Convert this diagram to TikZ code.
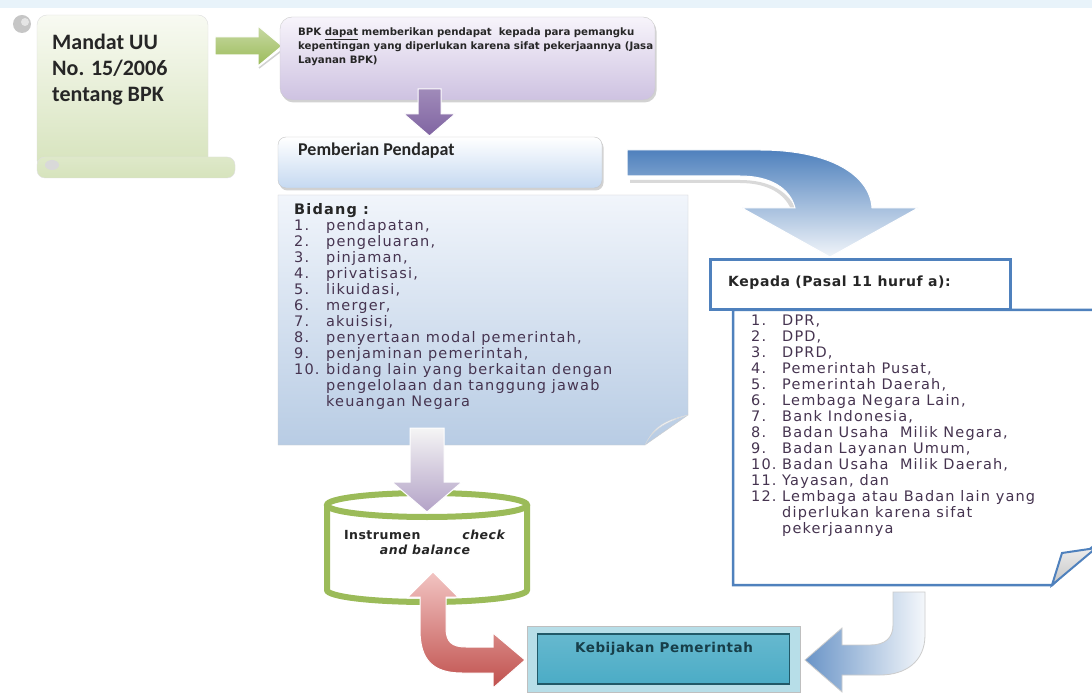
\documentclass[tikz,border=0pt]{standalone}
\usepackage{fontspec}
\setmainfont{Liberation Sans}
\newfontfamily\carl{Carlito}
\newfontfamily\dvs[LetterSpace=4]{DejaVu Sans}
\newfontfamily\dvsplain{DejaVu Sans}
\newfontfamily\lstfont[LetterSpace=8]{DejaVu Sans}
\usetikzlibrary{shadows}
\definecolor{bandblue}{RGB}{232,243,250}
\definecolor{scrolltop}{RGB}{248,250,242}
\definecolor{scrollgreen}{RGB}{214,227,188}
\definecolor{greenarrow}{RGB}{155,187,89}
\definecolor{purpletop}{RGB}{247,244,251}
\definecolor{purplebot}{RGB}{206,194,225}
\definecolor{purplearrow}{RGB}{128,100,162}
\definecolor{boxblue}{RGB}{197,217,241}
\definecolor{notetop}{RGB}{241,245,251}
\definecolor{notebot}{RGB}{184,204,228}
\definecolor{kblue}{RGB}{79,129,189}
\definecolor{cylgreen}{RGB}{155,187,89}
\definecolor{redarrow}{RGB}{192,80,77}
\definecolor{redlight}{RGB}{242,196,194}
\definecolor{teal}{RGB}{75,172,198}
\definecolor{tealdark}{RGB}{33,89,104}
\definecolor{tealframe}{RGB}{183,222,232}
\definecolor{txtdark}{RGB}{38,38,38}
\definecolor{listcol}{RGB}{70,52,80}
\definecolor{graylav}{RGB}{179,162,199}
\begin{document}
\begin{tikzpicture}[x=1pt,y=-1pt,
  every node/.style={inner sep=0pt},
  softshadow/.style={drop shadow={shadow xshift=1.5pt,shadow yshift=-2.5pt,opacity=.35,fill=gray}},
  blockarrow/.style={draw=white,line width=1pt},
  listtext/.style={anchor=base west,font=\lstfont\fontsize{14.5}{16}\selectfont,text=listcol}
]
\useasboundingbox (0,0) rectangle (1092,700);
\clip (0,0) rectangle (1092,700);
\fill[white] (0,0) rectangle (1092,700);
\fill[bandblue] (0,0) rectangle (1092,8);

% ---------- scroll: Mandat UU ----------
\shade[top color=scrolltop,bottom color=scrollgreen,draw=gray!25,rounded corners=10] (37,15) rectangle (208,170);
\shade[top color=scrollgreen!80!white,bottom color=scrollgreen,draw=gray!25,rounded corners=8] (37,157) rectangle (235,178);
\fill[gray!45] (22,24) circle (9);
\fill[gray!20] (25,22) circle (4);
\fill[gray!30] (52,165) ellipse (7 and 5);
\node[anchor=north west,align=left,font=\carl\bfseries\fontsize{22}{26}\selectfont,text=txtdark] (mandat) at (52,34) {Mandat UU\\No. 15/2006\\tentang BPK};

% ---------- green arrow ----------
\draw[gray!35,line width=1.5pt] (259,68) -- (285,48);
\shade[top color=greenarrow!55!white,bottom color=greenarrow,blockarrow] (215,37) -- (258,37) -- (258,26) -- (282,46) -- (258,66) -- (258,55) -- (215,55) -- cycle;

% ---------- top box ----------
\node[draw=gray!40,rounded corners=12,top color=purpletop,bottom color=purplebot,minimum width=375pt,minimum height=83pt,softshadow] (bpk) at (467.5,58.5) {};
\node[anchor=north west,align=left,font=\dvsplain\bfseries\fontsize{10.2}{14}\selectfont,text=txtdark] (bpktext) at (298,28) {BPK \underline{dapat} memberikan pendapat~ kepada para pemangku\\kepentingan yang diperlukan karena sifat pekerjaannya (Jasa\\Layanan BPK)};

% ---------- purple arrow ----------
\shade[top color=purplearrow!75,bottom color=purplearrow,blockarrow] (418,89) -- (441,89) -- (441,114) -- (455,114) -- (429.5,136) -- (404,114) -- (418,114) -- cycle;

% ---------- Pemberian Pendapat ----------
\node[draw=gray!45,rounded corners=8,top color=white,bottom color=boxblue,minimum width=324pt,minimum height=51pt,softshadow] (pemb) at (440,162.5) {};
\node[anchor=west,font=\carl\bfseries\fontsize{18}{20}\selectfont,text=txtdark] (pembtext) at (298,151) {Pemberian Pendapat};

% ---------- Bidang note ----------
\shade[top color=notetop,bottom color=notebot,draw=gray!40] (278,195) -- (688,195) -- (688,415) -- (645,445) -- (278,445) -- cycle;
\shade[top color=white,bottom color=notebot!70,draw=gray!30] (645,445) .. controls (652,430) and (665,422) .. (688,415) .. controls (668,420) and (655,424) .. (645,445) -- cycle;
\node[listtext] (bidang) at (294,215) {\begin{tabular}[t]{@{}p{32pt}@{}l@{}}
\multicolumn{2}{@{}l@{}}{\textcolor{txtdark}{\bfseries Bidang :}}\\
1. & pendapatan,\\
2. & pengeluaran,\\
3. & pinjaman,\\
4. & privatisasi,\\
5. & likuidasi,\\
6. & merger,\\
7. & akuisisi,\\
8. & penyertaan modal pemerintah,\\
9. & penjaminan pemerintah,\\
10. & bidang lain yang berkaitan dengan\\
 & pengelolaan dan tanggung jawab\\
 & keuangan Negara
\end{tabular}};

% ---------- big blue arrow ----------
\fill[gray!30] (630,180) -- (740,180) .. controls (770,180) and (790,192) .. (797,212) -- (792,212) .. controls (786,194) and (768,183) .. (740,183) -- (630,183) -- cycle;
\shade[top color=kblue,bottom color=kblue!8,blockarrow] (627,150) -- (760,150) .. controls (830,150) and (870,175) .. (872,208) -- (918,208) -- (830,257) -- (742,208) -- (795,208) .. controls (790,188) and (770,176) .. (740,176) -- (627,176) -- cycle;

% ---------- Kepada list box ----------
\draw[kblue,line width=2.5pt,fill=white] (1100,310) -- (733,310) -- (733,585) -- (1052,585) -- (1100,540);
\shade[top color=gray!15,bottom color=gray!45,draw=kblue,line width=2pt] (1052,585) -- (1062,553) -- (1096,548) -- cycle;
\node[draw=kblue,line width=3pt,fill=white,minimum width=300pt,minimum height=50pt] (kepada) at (860,285) {};
\node[anchor=west,font=\dvs\bfseries\fontsize{14}{16}\selectfont,text=txtdark] (kepadatext) at (728,283) {Kepada (Pasal 11 huruf a):};
\node[listtext] (kepadalist) at (751,326) {\begin{tabular}[t]{@{}p{31pt}@{}l@{}}
1. & DPR,\\
2. & DPD,\\
3. & DPRD,\\
4. & Pemerintah Pusat,\\
5. & Pemerintah Daerah,\\
6. & Lembaga Negara Lain,\\
7. & Bank Indonesia,\\
8. & Badan Usaha~ Milik Negara,\\
9. & Badan Layanan Umum,\\
10. & Badan Usaha~ Milik Daerah,\\
11. & Yayasan, dan\\
12. & Lembaga atau Badan lain yang\\
 & diperlukan karena sifat\\
 & pekerjaannya
\end{tabular}};

% ---------- cylinder ----------
\draw[cylgreen,line width=6pt,fill=white] (327,505) -- (327,590) arc[start angle=180,end angle=360,x radius=100,y radius=-12] -- (527,505);
\draw[cylgreen,line width=6pt] (427,505) ellipse (100 and 12);
\node[anchor=base,font=\dvs\bfseries\fontsize{12.5}{14}\selectfont,text=txtdark] (instr) at (425,539) {\makebox[162pt]{Instrumen\hfill\textit{check}}};
\node[anchor=base,font=\dvs\bfseries\itshape\fontsize{12.5}{14}\selectfont,text=txtdark] (cb) at (425,554) {and balance};

% ---------- gray arrow into cylinder ----------
\shade[top color=white!92!gray,bottom color=graylav,blockarrow] (410,428) -- (444,428) -- (444,482) -- (462,482) -- (427,512) -- (392,482) -- (410,482) -- cycle;

% ---------- red double arrow ----------
\shade[top color=redlight,bottom color=redarrow,blockarrow] (433,572) -- (458,597) -- (446,597) -- (446,628) .. controls (446,642) and (452,647) .. (466,647) -- (493,647) -- (493,633) -- (525,660) -- (493,688) -- (493,673) -- (462,673) .. controls (433,673) and (420,660) .. (420,630) -- (420,597) -- (408,597) -- cycle;

% ---------- Kebijakan Pemerintah ----------
\node[fill=tealframe,draw=gray!50,minimum width=273pt,minimum height=66pt] (kebframe) at (663.5,659) {};
\node[top color=teal!85!white,bottom color=teal,draw=tealdark,line width=1.5pt,minimum width=252pt,minimum height=50pt] (keb) at (663.5,659) {};
\node[font=\dvs\bfseries\fontsize{13.5}{15}\selectfont,text=tealdark!70!black] (kebtext) at (664,649) {Kebijakan Pemerintah};

% ---------- blue return arrow ----------
\shade[left color=kblue!85,right color=kblue!6,draw=gray!40,line width=0.8pt] (893,592) -- (925,592) -- (925,635) .. controls (925,662) and (905,675) .. (880,675) -- (842,675) -- (842,692) -- (805,660) -- (842,628) -- (842,645) -- (870,645) .. controls (885,645) and (893,638) .. (893,625) -- cycle;
\end{tikzpicture}
\end{document}
